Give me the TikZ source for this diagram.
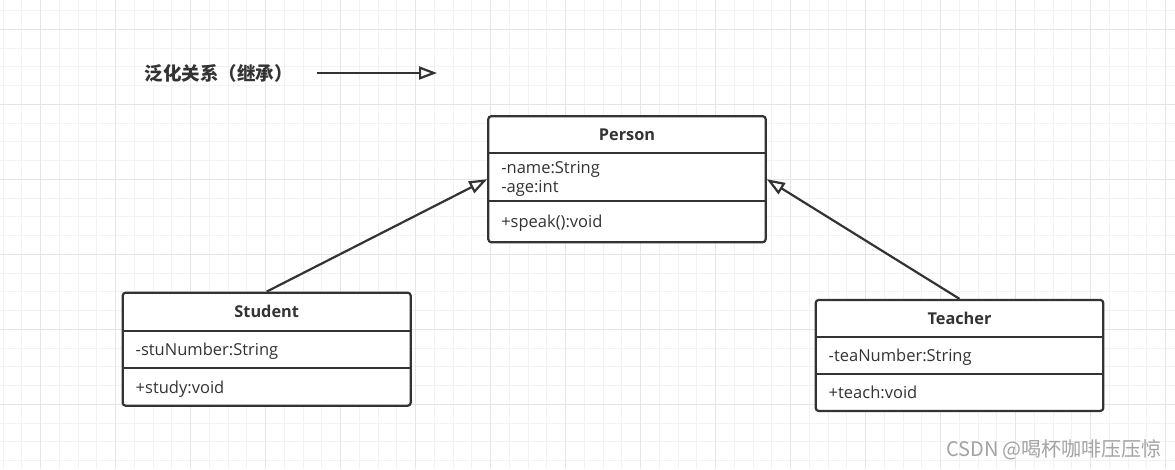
\documentclass[tikz,border=0pt]{standalone}
\usepackage{fontspec}
\setmainfont{Open Sans}
\newfontfamily\cjkfont{Noto Sans CJK SC}
\usetikzlibrary{positioning,fit,arrows.meta}
\definecolor{umlline}{HTML}{333333}
\definecolor{gridminor}{HTML}{F2F2F2}
\definecolor{gridmajor}{HTML}{E5E5E5}
\definecolor{markgray}{HTML}{A3A3A3}

\begin{document}
\begin{tikzpicture}[x=1pt,y=-1pt,
	classhead/.style={font=\fontsize{16.3}{19.5}\bfseries\selectfont, text=umlline, fill=white, inner sep=0pt, outer sep=0pt, minimum width=#1},
	classpart/.style={font=\fontsize{16.5}{19.5}\selectfont, text=umlline, fill=white, inner xsep=13pt, inner ysep=0pt, outer sep=0pt, text width=#1, text depth=0pt, align=left},
	classframe/.style={draw=umlline, line width=2.2pt, rounded corners=3pt, inner sep=0pt},
	classrule/.style={draw=umlline, line width=2.2pt},
	extends/.style={draw=umlline, line width=2.2pt, -{Triangle[length=18pt, width=13pt, fill=white]}}]
	\useasboundingbox[fill=white] (0,0) rectangle (1175,469);
	\foreach \gx in {0,...,62} \draw[gridminor, line width=1pt] ({3.2+18.75*\gx},0) -- ++(0,469);
	\foreach \gy in {0,...,24} \draw[gridminor, line width=1pt] (0,{10.55+18.75*\gy}) -- ++(1175,0);
	\foreach \gx in {0,...,15} \draw[gridmajor, line width=1pt] ({40.7+75*\gx},0) -- ++(0,469);
	\foreach \gy in {0,...,5} \draw[gridmajor, line width=1pt] (0,{29.3+75*\gy}) -- ++(1175,0);

	\node[font=\cjkfont\fontsize{18.5}{22}\bfseries\selectfont, text=umlline] (legend) at (218.5,73) {泛化关系（继承）};
	\coordinate (legend-from) at (317,73);
	\coordinate (legend-to) at (437,73);
	\draw[extends] (legend-from) -- (legend-to);

	\node[classhead=277.4pt, minimum height=36.6pt] (person) at (627,134.5) {Person};
	\node[classpart=251.4pt, text depth=19.5pt, minimum height=48.4pt, below=0pt of person] (person-attr) {-name:String\\-age:int};
	\node[classpart=251.4pt, minimum height=41pt, below=0pt of person-attr] (person-ops) {+speak():void};
	\node[classframe, fit=(person)(person-ops)] (person-box) {};
	\draw[classrule] (person-attr.north west) -- (person-attr.north east);
	\draw[classrule] (person-ops.north west) -- (person-ops.north east);

	\node[classhead=288pt, minimum height=38pt] (student) at (266.7,311.7) {Student};
	\node[classpart=262pt, minimum height=37.6pt, below=0pt of student] (student-attr) {-stuNumber:String};
	\node[classpart=262pt, minimum height=37.4pt, below=0pt of student-attr] (student-ops) {+study:void};
	\node[classframe, fit=(student)(student-ops)] (student-box) {};
	\draw[classrule] (student-attr.north west) -- (student-attr.north east);
	\draw[classrule] (student-ops.north west) -- (student-ops.north east);

	\node[classhead=287.6pt, minimum height=36.7pt] (teacher) at (959.5,318.3) {Teacher};
	\node[classpart=261.6pt, minimum height=37.6pt, below=0pt of teacher] (teacher-attr) {-teaNumber:String};
	\node[classpart=261.6pt, minimum height=36.7pt, below=0pt of teacher-attr] (teacher-ops) {+teach:void};
	\node[classframe, fit=(teacher)(teacher-ops)] (teacher-box) {};
	\draw[classrule] (teacher-attr.north west) -- (teacher-attr.north east);
	\draw[classrule] (teacher-ops.north west) -- (teacher-ops.north east);

	\draw[extends] (student-box.north) -- (person-box.west);
	\draw[extends] (teacher-box.north) -- (person-box.east);

	\node[font=\cjkfont\fontsize{20}{24}\selectfont, text=markgray] (watermark) at (1054,450) {CSDN @喝杯咖啡压压惊};
\end{tikzpicture}
\end{document}
